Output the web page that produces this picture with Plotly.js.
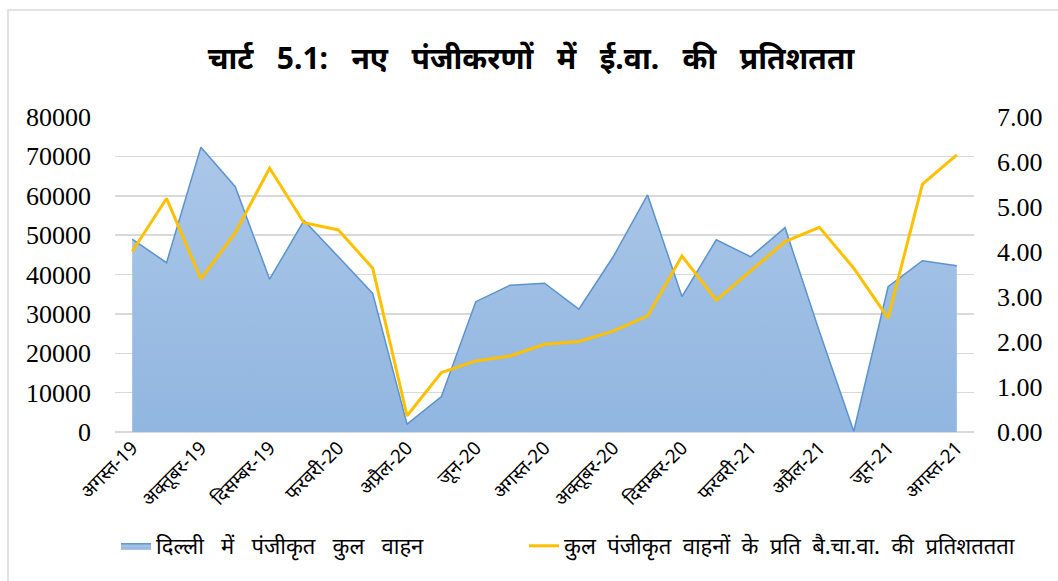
<!DOCTYPE html>
<html>
<head>
<meta charset="utf-8">
<script src="https://cdn.plot.ly/plotly-3.0.1.min.js"></script>
<style>
html,body{margin:0;padding:0;background:#fff;}
#chart{width:1058px;height:581px;}
</style>
</head>
<body>
<div id="chart"></div>
<script>
const months = ["अगस्त-19","सितम्बर-19","अक्तूबर-19","नवम्बर-19","दिसम्बर-19","जनवरी-20","फरवरी-20","मार्च-20","अप्रैल-20","मई-20","जून-20","जुलाई-20","अगस्त-20","सितम्बर-20","अक्तूबर-20","नवम्बर-20","दिसम्बर-20","जनवरी-21","फरवरी-21","मार्च-21","अप्रैल-21","मई-21","जून-21","जुलाई-21","अगस्त-21"];
const tickLabels = ["अगस्त-19","अक्तूबर-19","दिसम्बर-19","फरवरी-20","अप्रैल-20","जून-20","अगस्त-20","अक्तूबर-20","दिसम्बर-20","फरवरी-21","अप्रैल-21","जून-21","अगस्त-21"];
const totalVehicles = [49000,43000,72300,62300,38800,53700,44500,35200,2000,9000,33100,37300,37800,31200,44500,60200,34400,48800,44500,51900,25500,200,36900,43500,42200];
const evShare = [4.01,5.19,3.40,4.43,5.86,4.65,4.49,3.64,0.36,1.32,1.58,1.69,1.95,2.01,2.24,2.58,3.91,2.93,3.58,4.23,4.55,3.64,2.53,5.51,6.16];
const seriesNames = ["दिल्ली में पंजीकृत कुल वाहन","कुल पंजीकृत वाहनों के प्रति बै.चा.वा. की प्रतिशततता"];
const titleWords = ["चार्ट","5.1:","नए","पंजीकरणों","में","ई.वा.","की","प्रतिशतता"];

const tickIdx = tickLabels.map(t => months.indexOf(t));
const xs = months.map((m,i)=>i);
const serif = 'Liberation Serif';
const deva = 'Noto Sans';
const spaced = (s, n) => s.split(' ').join(' ' + '\u00a0'.repeat(n));

const traces = [
  {
    x: xs, y: totalVehicles, name: spaced(seriesNames[0], 2),
    type: 'scatter', mode: 'lines', fill: 'tozeroy',
    line: {color: '#5b93cd', width: 1.5},
    fillcolor: '#9dbee4',
    fillgradient: {type: 'vertical', colorscale: [[0, '#91b6e0'], [1, '#abc7e8']]},
    yaxis: 'y', legend: 'legend'
  },
  {
    x: xs, y: evShare, name: spaced(seriesNames[1], 1),
    type: 'scatter', mode: 'lines',
    line: {color: '#ffc000', width: 3},
    yaxis: 'y2', legend: 'legend2'
  }
];

const legendCommon = {
  orientation: 'h', xref: 'container', yref: 'container',
  xanchor: 'left', yanchor: 'middle', y: 1 - 546/581,
  font: {family: deva, size: 22, color: '#000'},
  bgcolor: 'rgba(0,0,0,0)', itemwidth: 30
};

const layout = {
  width: 1058, height: 581,
  margin: {l: 115, r: 84, t: 117, b: 149},
  paper_bgcolor: '#ffffff', plot_bgcolor: '#ffffff',
  showlegend: true,
  title: {
    text: '<b>' + titleWords.join('\u00a0\u00a0\u00a0') + '</b>',
    x: 531/1058, xref: 'container', xanchor: 'center',
    y: 1 - 58/581, yref: 'container', yanchor: 'middle',
    font: {family: deva, size: 30, color: '#000'}
  },
  font: {family: serif, color: '#000'},
  xaxis: {
    range: [-0.5, 24.5],
    tickmode: 'array', tickvals: tickIdx, ticktext: tickLabels,
    tickangle: -45,
    tickfont: {family: deva, size: 19, color: '#000'},
    showgrid: false, zeroline: false,
    showline: false, ticks: '', fixedrange: true
  },
  yaxis: {
    range: [0, 80000], dtick: 10000,
    tickfont: {family: serif, size: 26, color: '#000'},
    showgrid: true, gridcolor: '#d9d9d9', gridwidth: 1.5,
    zeroline: true, zerolinecolor: '#d9d9d9', zerolinewidth: 1.5,
    ticks: '', tickformat: 'd', automargin: false, ticklabelstandoff: 23
  },
  yaxis2: {
    range: [0, 7], dtick: 1, overlaying: 'y', side: 'right',
    tickformat: '.2f',
    tickfont: {family: serif, size: 26, color: '#000'},
    showgrid: false, zeroline: false, ticks: '', automargin: false, ticklabelstandoff: 22
  },
  legend: Object.assign({}, legendCommon, {x: 116/1058}),
  legend2: Object.assign({}, legendCommon, {x: 524/1058}),
  shapes: [{
    type: 'rect', xref: 'paper', yref: 'paper',
    x0: (8-115)/859, x1: (1065-115)/859,
    y0: (432-590)/315, y1: (432-10)/315,
    line: {color: '#d9d9d9', width: 1.5}, fillcolor: 'rgba(0,0,0,0)', layer: 'below'
  }]
};

Plotly.newPlot('chart', traces, layout, {displayModeBar: false, staticPlot: true});
</script>
</body>
</html>
